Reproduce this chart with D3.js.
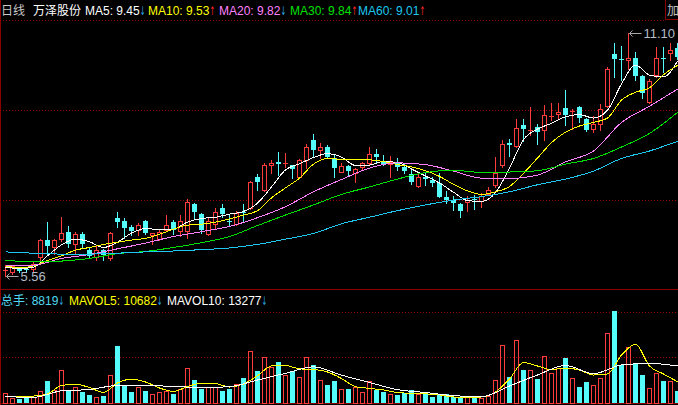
<!DOCTYPE html>
<html>
<head>
<meta charset="utf-8">
<script src="https://cdn.jsdelivr.net/npm/d3@7"></script>
<style>
    html, body { margin: 0; padding: 0; background: #000; overflow: hidden; }
    svg { display: block; }
    text { font-family: "Liberation Sans", Arial, "Noto Sans CJK SC", sans-serif; font-size: 12px; }
    .arrow { font-family: "DejaVu Sans", sans-serif; font-size: 12px; }
</style>
</head>
<body>
<div id="chart"></div>
<script>
// Daily candles, oldest first
var opens = [5.68,5.64,5.72,5.72,5.72,6.00,6.38,6.23,6.40,6.56, 6.29,6.52,6.15,6.00,6.15,5.96,6.89,6.81,6.67,6.61,
    6.81,6.50,6.40,6.61,6.78,6.59,6.59,7.20,6.97,6.52, 6.74,7.10,6.82,6.74,7.02,7.10,7.82,7.52,8.09,8.16,
    8.11,8.09,7.82,8.20,8.66,8.44,8.49,8.24,7.94,8.07, 7.91,8.04,8.14,8.33,8.19,8.11,8.17,8.04,7.89,7.62,
    7.82,7.76,7.67,7.37,7.29,7.20,7.24,7.31,7.26,7.42, 7.63,8.08,8.59,8.53,9.00,8.87,8.96,8.88,9.18,9.25,
    9.38,9.31,9.42,9.14,8.91,9.02,9.44,10.61,10.51,10.49, 10.52,10.13,9.52,10.14,10.53,10.64,10.75];
var highs = [5.80,5.81,5.76,5.76,5.88,6.40,6.78,6.40,6.91,6.70, 6.57,6.57,6.23,6.24,6.18,6.57,7.02,6.88,6.72,6.77,
    6.84,6.54,6.60,6.95,6.84,6.95,7.31,7.22,7.00,6.91, 7.10,7.20,6.97,7.04,7.20,7.72,7.88,8.13,8.20,8.38,
    8.36,8.10,8.22,8.56,8.79,8.59,8.55,8.32,8.13,8.09, 8.03,8.15,8.49,8.46,8.32,8.30,8.24,8.13,8.00,7.90,
    7.94,7.82,7.90,7.50,7.38,7.22,7.38,7.41,7.45,7.58, 8.27,8.66,8.68,9.15,9.15,9.42,9.02,9.45,9.50,9.50,
    9.80,9.37,9.44,9.16,9.21,9.47,10.33,10.87,10.81,11.10, 10.67,10.15,10.05,10.79,10.79,10.87,10.87];
var lows = [5.56,5.60,5.64,5.66,5.67,5.88,6.05,6.06,6.36,6.23, 6.08,6.23,6.00,5.92,5.92,5.92,6.67,6.42,6.49,6.49,
    6.52,6.30,6.38,6.58,6.51,6.48,6.42,6.89,6.55,6.50, 6.65,6.91,6.72,6.72,6.82,7.08,7.52,7.50,7.90,7.86,
    8.05,7.79,7.80,8.02,8.30,8.24,8.25,7.82,7.92,7.86, 7.71,8.00,8.10,8.13,8.08,7.82,7.98,7.90,7.66,7.60,
    7.63,7.62,7.35,7.22,7.06,6.90,7.05,7.08,7.14,7.40, 7.60,8.04,8.30,8.50,8.64,8.77,8.56,8.66,9.12,9.14,
    9.00,8.92,9.08,8.87,8.84,8.89,9.42,10.10,10.03,10.29, 10.03,9.62,9.50,10.10,10.22,10.48,10.50];
var closes = [5.70,5.78,5.68,5.70,5.83,6.38,6.24,6.38,6.55,6.30, 6.51,6.29,6.02,6.15,6.03,6.55,6.80,6.65,6.58,6.72,
    6.55,6.53,6.57,6.72,6.61,6.81,7.24,7.01,6.61,6.82, 7.02,6.97,6.80,6.99,7.00,7.70,7.71,8.09,8.14,8.11,
    8.13,7.99,8.20,8.51,8.43,8.50,8.28,8.03,8.07,7.96, 8.01,8.13,8.33,8.28,8.11,8.16,8.04,7.96,7.71,7.81,
    7.78,7.67,7.37,7.29,7.22,7.04,7.29,7.29,7.38,7.52, 7.90,8.57,8.55,8.93,8.91,8.89,8.84,9.23,9.20,9.29,
    9.23,9.33,9.16,8.89,9.02,9.36,10.29,10.51,10.49,10.52, 10.13,9.73,10.01,10.52,10.51,10.71,10.56];
// volume in hands
var volumes = [6000,3000,2600,3400,3400,7000,13400,7800,19800,7000, 9600,6400,5000,3600,4400,17000,34000,11000,6400,9800,
    7400,5400,6600,7400,5600,8400,21000,14000,8600,9400, 9400,7400,8600,11400,15000,31400,19400,27400,21400,24600,
    17000,19400,15600,27800,22600,14000,10600,13000,8600,8600, 9600,6600,13000,8000,6800,5600,5000,6200,7800,5600,
    5400,3400,5400,5400,3800,3400,4000,3600,3000,4400, 14000,35000,15800,38000,20000,20000,14600,28400,18000,21000,
    27200,15000,9800,12800,11000,15000,42000,55400,22600,33400, 23800,17000,9000,18200,13400,13400,7400];

// moving averages (MA5/MA10 every 2nd day, the others every 4th day)
var ma5 = [5.76,5.73,5.76,6.02,6.27,6.40,6.34,6.21,6.33,6.54, 6.64,6.62,6.63,6.79,6.87,6.90,6.97,7.03,7.22,7.59,
    7.98,8.12,8.26,8.35,8.27,8.08,8.09,8.17,8.15,8.00, 7.84,7.68,7.47,7.28,7.26,7.46,8.02,8.67,8.91,9.04,
    9.19,9.24,9.16,9.34,9.94,10.37,10.14,10.10,10.46];
var ma10 = [5.79,5.75,5.79,5.91,6.02,6.15,6.21,6.28,6.33,6.38, 6.42,6.51,6.63,6.72,6.74,6.79,6.86,6.95,7.05,7.34,
    7.57,7.79,8.11,8.24,8.22,8.22,8.21,8.17,8.10,8.05, 7.96,7.83,7.65,7.50,7.42,7.48,7.60,7.90,8.25,8.60,
    8.84,8.98,9.06,9.16,9.57,9.75,9.85,10.15,10.36];
var ma20 = [5.81,5.81,5.96,6.05,6.18,6.31,6.46,6.57,6.69,6.89, 7.14,7.48,7.76,8.02,8.14,8.10,7.95,7.79,7.78,7.86,
    8.16,8.41,9.06,9.43,9.82];
var ma30 = [5.92,5.88,5.90,5.96,6.07,6.12,6.21,6.32,6.46,6.71, 6.95,7.18,7.42,7.59,7.77,7.92,7.97,7.92,7.93,7.96,
    8.11,8.24,8.50,8.81,9.29];
var ma60 = [6.11,6.08,6.06,6.06,6.08,6.11,6.13,6.16,6.20,6.28, 6.40,6.53,6.75,6.90,7.05,7.18,7.29,7.37,7.48,7.64,
    7.77,7.95,8.24,8.41,8.63];
var mavol5 = [3800,4200,4200,5400,10500,11200,9300,6300,12000,14300, 12600,9000,6900,9900,11800,11600,9600,11400,16400,22200,
    22500,20500,20100,18600,14700,9800,8800,7800,6300,5800, 5500,4800,3600,3400,3600,6600,14400,24300,22200,20000,
    21000,19800,16800,17400,28800,35200,22200,17400,12800];
var mavol10 = [3800,3400,7300,8100,10500,10400,10000,9200,9800,13800, 17800,21700,16700,12300,8000,6300,4400,3800,10200,16800,
    22500,17600,22800,23800,22200];

// header texts
var stockName = "万泽股份";
var periodName = "日线";
var maLabels = ["MA5", "MA10", "MA20", "MA30", "MA60"];
var maValues = ["9.45", "9.53", "9.82", "9.84", "9.01"];
var maTrends = ["down", "up", "down", "up", "up"];
var volLabels = ["总手", "MAVOL5", "MAVOL10"];
var volValues = ["8819", "10682", "13277"];
var volTrends = ["down", "down", "down"];

function drawChart() {
    var W = 678, H = 405;
    var red = "#ff3c3c", cyan = "#54fcfc", grid = "#9a0000";
    var maColors = ["#ffffff", "#ffff00", "#ff80ff", "#00e000", "#1ec8f0"];

    var svg = d3.select("#chart").append("svg")
        .attr("width", W)
        .attr("height", H);
    svg.append("rect").attr("width", W).attr("height", H).attr("fill", "#000");

    // scales
    var n = opens.length;
    var x = d3.scaleBand().domain(d3.range(n)).range([2, 2 + 7 * n]);
    var cx = function(i) { return x(i) + x.bandwidth() / 2; };
    var y = d3.scaleLinear().domain([d3.min(lows), d3.max(highs)]).range([276, 33]);
    var yv = d3.scaleLinear().domain([0, 60000]).range([403, 303]);

    // frame and grid
    var frame = svg.append("g").attr("shape-rendering", "crispEdges");
    frame.append("line").attr("x1", 0).attr("x2", 665).attr("y1", 20.5).attr("y2", 20.5)
        .attr("stroke", grid).attr("stroke-dasharray", "1,2");
    [110.5, 200.5, 312.5, 357.5].forEach(function(gy) {
        frame.append("line").attr("x1", 0).attr("x2", W).attr("y1", gy).attr("y2", gy)
            .attr("stroke", grid).attr("stroke-dasharray", "1,2");
    });
    frame.append("line").attr("x1", 0).attr("x2", W).attr("y1", 289.5).attr("y2", 289.5).attr("stroke", "#8c0000");
    frame.append("line").attr("x1", 0).attr("x2", W).attr("y1", 403.5).attr("y2", 403.5).attr("stroke", "#8c0000");
    frame.append("line").attr("x1", 0.5).attr("x2", 0.5).attr("y1", 0).attr("y2", H).attr("stroke", "#8c0000");
    frame.append("rect").attr("x", 665.5).attr("y", -1).attr("width", 20).attr("height", 20.5)
        .attr("fill", "none").attr("stroke", "#8c0000");

    // candles
    var candles = svg.append("g").attr("shape-rendering", "crispEdges");
    d3.range(n).forEach(function(i) {
        var c = cx(i);
        var yo = Math.round(y(opens[i])), yc = Math.round(y(closes[i]));
        var yh = Math.round(y(highs[i])), yl = Math.round(y(lows[i]));
        if (closes[i] >= opens[i]) {
            if (yo - yc >= 2) {
                candles.append("line").attr("x1", c).attr("x2", c).attr("y1", yh).attr("y2", yc).attr("stroke", red);
                candles.append("line").attr("x1", c).attr("x2", c).attr("y1", yo + 1).attr("y2", yl + 1).attr("stroke", red);
                candles.append("rect").attr("x", c - 2).attr("y", yc + 0.5).attr("width", 4).attr("height", yo - yc)
                    .attr("fill", "#000").attr("stroke", red);
            } else {
                candles.append("line").attr("x1", c).attr("x2", c).attr("y1", yh).attr("y2", yl + 1).attr("stroke", red);
                candles.append("rect").attr("x", c - 2.5).attr("y", yc).attr("width", 5).attr("height", Math.max(yo - yc, 1))
                    .attr("fill", red);
            }
        } else {
            candles.append("line").attr("x1", c).attr("x2", c).attr("y1", yh).attr("y2", yl + 1).attr("stroke", cyan);
            candles.append("rect").attr("x", c - 2.5).attr("y", yo).attr("width", 5).attr("height", Math.max(yc - yo, 1))
                .attr("fill", cyan);
        }
    });

    // moving average lines
    var maSets = [[ma5, 2], [ma10, 2], [ma20, 4], [ma30, 4], [ma60, 4]];
    maSets.forEach(function(set, k) {
        var line = d3.line()
            .x(function(d, j) { return cx(j * set[1]); })
            .y(function(d) { return y(d); })
            .curve(d3.curveMonotoneX);
        svg.append("path").datum(set[0])
            .attr("d", line)
            .attr("fill", "none")
            .attr("stroke", maColors[k])
            .attr("stroke-width", 1)
            .attr("shape-rendering", "crispEdges");
    });

    // high / low markers
    function marker(i, val) {
        var c = cx(i), yy = Math.round(y(val)) + 0.5;
        svg.append("path")
            .attr("d", "M" + (c + 1) + "," + yy + "H" + (c + 13) + "M" + (c + 4) + "," + (yy - 3) + "L" + (c + 1) + "," + yy + "L" + (c + 4) + "," + (yy + 3))
            .attr("fill", "none").attr("stroke", "#a8a8a8");
        svg.append("text").attr("x", c + 15).attr("y", yy + 4.5)
            .attr("fill", "#b4bcc8").style("font-size", "13px").text(val.toFixed(2));
    }
    marker(d3.maxIndex(highs), d3.max(highs));
    marker(d3.minIndex(lows), d3.min(lows));

    // volume bars
    var vol = svg.append("g").attr("shape-rendering", "crispEdges");
    volumes.forEach(function(v, i) {
        var c = cx(i), top = Math.round(yv(v));
        if (closes[i] >= opens[i]) {
            vol.append("rect").attr("x", c - 2).attr("y", top + 0.5).attr("width", 4).attr("height", 403 - top)
                .attr("fill", "none").attr("stroke", red);
        } else {
            vol.append("rect").attr("x", c - 2.5).attr("y", top).attr("width", 5).attr("height", 403 - top)
                .attr("fill", cyan);
        }
    });

    var volSets = [[mavol5, 2, "#ffff00"], [mavol10, 4, "#ffffff"]];
    volSets.forEach(function(set) {
        var line = d3.line()
            .x(function(d, j) { return cx(j * set[1]); })
            .y(function(d) { return yv(d); })
            .curve(d3.curveMonotoneX);
        svg.append("path").datum(set[0])
            .attr("d", line)
            .attr("fill", "none")
            .attr("stroke", set[2])
            .attr("shape-rendering", "crispEdges");
    });

    // label followed by a narrow trend arrow
    var arrowColor = { up: "#ff2a2a", down: "#28a8e8" };
    var arrowChar = { up: "↑", down: "↓" };
    function labelWithArrow(lx, ly, str, color, trend) {
        var t = svg.append("text").attr("x", lx).attr("y", ly).attr("fill", color).text(str);
        var ax = lx + t.node().getComputedTextLength();
        svg.append("text").attr("class", "arrow")
            .attr("transform", "translate(" + ax + "," + ly + ") scale(0.55,1)")
            .attr("fill", arrowColor[trend]).text(arrowChar[trend]);
    }

    // header of price panel
    svg.append("text").attr("x", 1).attr("y", 15).attr("fill", "#c8c8c8").text(periodName);
    svg.append("text").attr("x", 33).attr("y", 15).attr("fill", "#ffffff").text(stockName);
    var maX = [85, 148, 219, 290, 358];
    maLabels.forEach(function(lbl, k) {
        labelWithArrow(maX[k], 15, lbl + ": " + maValues[k], maColors[k], maTrends[k]);
    });
    svg.append("text").attr("x", 667).attr("y", 15).attr("fill", "#c0c0c0").text("加");

    // header of volume panel
    var volX = [1, 69, 167];
    var volColors = ["#50d8f0", "#ffff00", "#ffffff"];
    volLabels.forEach(function(lbl, k) {
        labelWithArrow(volX[k], 305, lbl + ": " + volValues[k], volColors[k], volTrends[k]);
    });
}

drawChart();
</script>
</body>
</html>
